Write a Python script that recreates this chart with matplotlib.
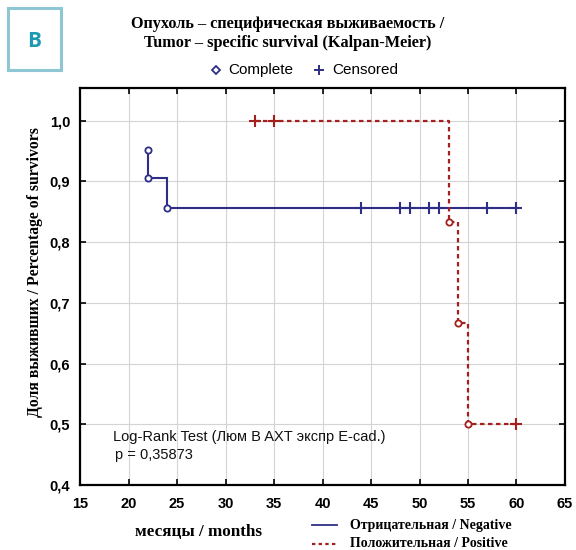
import numpy as np
import matplotlib.pyplot as plt
from matplotlib.lines import Line2D
from matplotlib.patches import Rectangle

# --- данные (Каплан-Мейер) ---
# Отрицательная / Negative
neg_t = [22, 22, 24, 60]
neg_s = [0.952, 0.905, 0.857, 0.857]
neg_event_t = [22, 22, 24]
neg_event_s = [0.952, 0.905, 0.857]
neg_cens_t = [44, 48, 49, 51, 52, 57, 60]
neg_cens_s = [0.857, 0.857, 0.857, 0.857, 0.857, 0.857, 0.857]

# Положительная / Positive
pos_t = [33, 53, 54, 55, 60]
pos_s = [1.0, 0.833, 0.667, 0.5, 0.5]
pos_event_t = [53, 54, 55]
pos_event_s = [0.833, 0.667, 0.5]
pos_cens_t = [33, 35, 60]
pos_cens_s = [1.0, 1.0, 0.5]

xticks = [15, 20, 25, 30, 35, 40, 45, 50, 55, 60, 65]
yticks = [0.4, 0.5, 0.6, 0.7, 0.8, 0.9, 1.0]
ytick_labels = ["0,4", "0,5", "0,6", "0,7", "0,8", "0,9", "1,0"]

blue = "#2e2e86"
red = "#a3201c"
teal = "#1f98b2"
serif = "Liberation Serif"
sans = "Liberation Sans"


def km_steps(t, s):
    # ступенчатая кривая: горизонталь, затем вертикальный спуск
    xs, ys = [t[0]], [s[0]]
    for i in range(1, len(t)):
        xs.append(t[i]); ys.append(s[i - 1])
        xs.append(t[i]); ys.append(s[i])
    return xs, ys


fig = plt.figure(figsize=(5.76, 5.5), dpi=100)
ax = fig.add_axes([0.1389, 0.1182, 0.9809 - 0.1389, 0.84 - 0.1182])

ax.grid(True, color="#d4d4d4", lw=0.8)
ax.set_axisbelow(True)

x, y = km_steps(neg_t, neg_s)
ax.plot(x, y, color=blue, lw=1.5, solid_joinstyle="miter")
ax.plot(neg_event_t, neg_event_s, "o", ms=4.5, mfc="white", mec=blue, mew=1.3)
ax.plot(neg_cens_t, neg_cens_s, "+", ms=8, color=blue, mew=1.5)

x, y = km_steps(pos_t, pos_s)
ax.plot(x, y, color=red, lw=1.6, ls=(0, (2, 1.6)))
ax.plot(pos_event_t, pos_event_s, "o", ms=4.5, mfc="white", mec=red, mew=1.3)
ax.plot(pos_cens_t, pos_cens_s, "+", ms=8, color=red, mew=1.5)

ax.set_xlim(15, 65)
ax.set_ylim(0.4, 1.054)
ax.set_xticks(xticks)
ax.set_yticks(yticks)
ax.set_yticklabels(ytick_labels)
ax.tick_params(direction="in", length=4, width=1.2, top=True, right=True,
               labelsize=10.5)
ax.tick_params(axis="x", pad=9)
ax.tick_params(axis="y", pad=7)
for lbl in ax.get_xticklabels() + ax.get_yticklabels():
    lbl.set_fontfamily(sans)
    lbl.set_fontweight("bold")
for sp in ax.spines.values():
    sp.set_linewidth(1.6)

ax.text(0.068, 0.121, "Log-Rank Test (Люм B AXT экспр E-cad.)", transform=ax.transAxes,
        va="center", fontsize=10.5, family=sans, color="#111111")
ax.text(0.072, 0.076, "p = 0,35873", transform=ax.transAxes,
        va="center", fontsize=10.5, family=sans, color="#111111")

# заголовок
fig.text(0.5, 0.956, "Опухоль – специфическая выживаемость /", ha="center", va="center",
         fontsize=11.7, family=serif, fontweight="bold")
fig.text(0.5, 0.921, "Tumor – specific survival (Kalpan-Meier)", ha="center", va="center",
         fontsize=11.7, family=serif, fontweight="bold")

# легенда сверху
fig.lines.append(Line2D([0.375], [0.873], marker="D", ms=4, mfc="white", mec=blue, mew=1.3,
                        transform=fig.transFigure))
fig.text(0.397, 0.873, "Complete", va="center", fontsize=11, family=sans)
fig.lines.append(Line2D([0.554], [0.873], marker="+", ms=7, color=blue, mew=1.4,
                        transform=fig.transFigure))
fig.text(0.576, 0.873, "Censored", va="center", fontsize=11, family=sans)

# подписи осей
fig.text(0.344, 0.033, "месяцы / months", ha="center", va="center",
         fontsize=12.3, family=serif, fontweight="bold")
fig.text(0.061, 0.506, "Доля выживших / Percentage of survivors", ha="center", va="center",
         rotation=90, fontsize=11.3, family=serif, fontweight="bold")

# легенда снизу
fig.lines.append(Line2D([0.542, 0.585], [0.045, 0.045], color=blue, lw=1.3,
                        transform=fig.transFigure))
fig.text(0.608, 0.045, "Отрицательная / Negative", va="center", fontsize=10,
         family=serif, fontweight="bold")
fig.lines.append(Line2D([0.542, 0.585], [0.011, 0.011], color=red, lw=1.6, ls=(0, (1.5, 1.5)),
                        transform=fig.transFigure))
fig.text(0.608, 0.011, "Положительная / Positive", va="center", fontsize=10,
         family=serif, fontweight="bold")

# буква панели
fig.patches.append(Rectangle((0.014, 0.873), 0.092, 0.113, transform=fig.transFigure,
                             fill=False, ec="#8fc6d4", lw=2.2))
fig.text(0.059, 0.925, "B", ha="center", va="center", fontsize=15, family="Open Sans",
         fontweight="bold", color=teal)

fig.savefig("out.png", dpi=100)
